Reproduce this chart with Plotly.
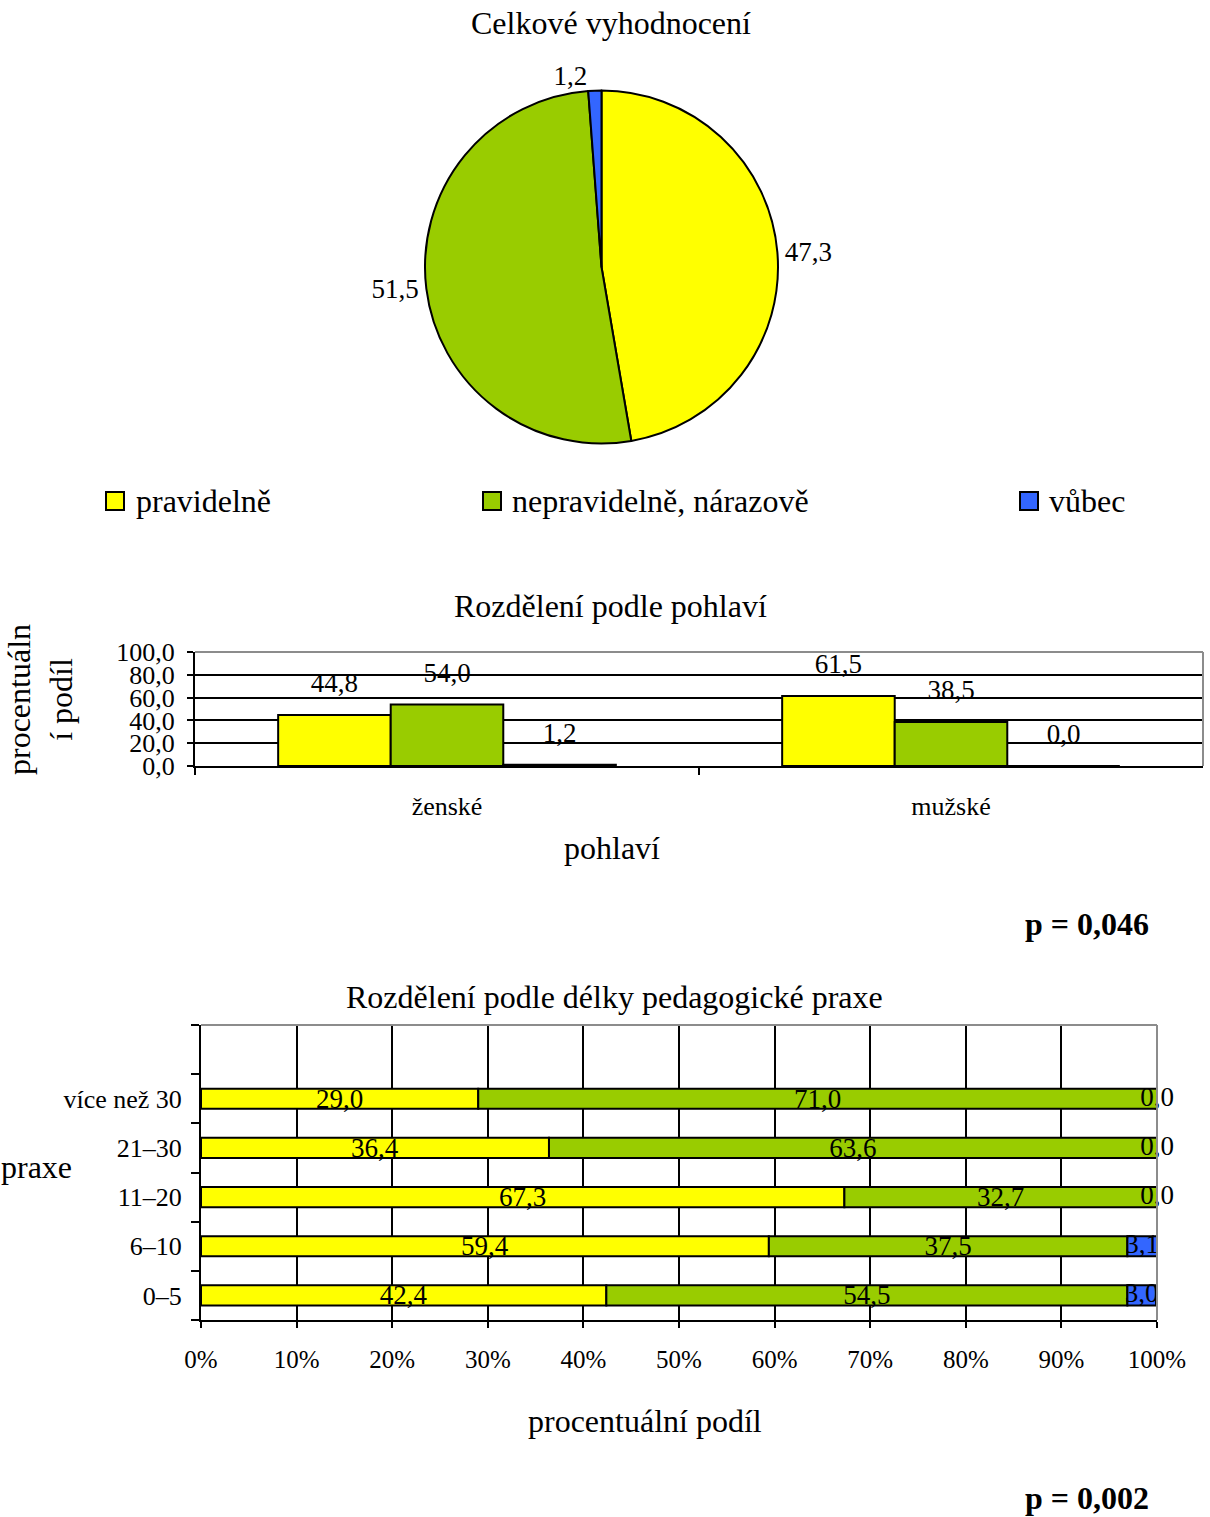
import plotly.graph_objects as go

W, H = 1210, 1517
FONT = "Liberation Serif"

# ---------------- data ----------------
series_names = ["pravidelně", "nepravidelně, nárazově", "vůbec"]
series_colors = ["#FFFF00", "#99CC00", "#3366FF"]

pie_values = [47.3, 51.5, 1.2]

gender_categories = ["ženské", "mužské"]
gender_pravidelne = [44.8, 61.5]
gender_nepravidelne = [54.0, 38.5]
gender_vubec = [1.2, 0.0]

praxe_categories = ["0–5", "6–10", "11–20", "21–30", "více než 30"]
praxe_pravidelne = [42.4, 59.4, 67.3, 36.4, 29.0]
praxe_nepravidelne = [54.5, 37.5, 32.7, 63.6, 71.0]
praxe_vubec = [3.0, 3.1, 0.0, 0.0, 0.0]
# the original axis keeps one empty slot above the last category
praxe_axis_categories = praxe_categories + [" "]


def fx(px):
    return px / W


def fy(py):
    return 1 - py / H


fig = go.Figure()

# ---------------- pie ----------------
fig.add_trace(go.Pie(
    values=pie_values, labels=series_names, sort=False,
    direction="clockwise", rotation=0,
    marker=dict(colors=series_colors, line=dict(color="black", width=2)),
    textposition="outside", texttemplate="%{value:.1f}",
    textfont=dict(size=27, color="black", family=FONT),
    domain=dict(x=[fx(425), fx(778)], y=[fy(444), fy(90)]),
    showlegend=False, automargin=False,
))

# ---------------- grouped bars (gender) ----------------
gender_series = [gender_pravidelne, gender_nepravidelne, gender_vubec]
for name, vals, col in zip(series_names, gender_series, series_colors):
    fig.add_trace(go.Bar(
        x=gender_categories, y=vals, name=name, xaxis="x", yaxis="y",
        marker=dict(color=col, line=dict(color="black", width=2)),
        showlegend=False,
    ))
for name, vals in zip(series_names, gender_series):
    fig.add_trace(go.Scatter(
        x=gender_categories, y=vals, name=name, xaxis="x", yaxis="y",
        mode="markers+text", texttemplate="%{y:.1f}", textposition="top center",
        marker=dict(size=24, color="rgba(0,0,0,0)"),
        textfont=dict(size=27, color="black", family=FONT),
        showlegend=False, cliponaxis=False,
    ))

# ---------------- stacked horizontal bars (praxe) ----------------
praxe_series = [praxe_pravidelne, praxe_nepravidelne, praxe_vubec]
running = [0.0] * len(praxe_categories)
for i, (name, vals, col) in enumerate(zip(series_names, praxe_series, series_colors)):
    last = i == len(praxe_series) - 1
    fig.add_trace(go.Bar(
        y=praxe_categories, x=vals, base=list(running), orientation="h",
        name=name, xaxis="x2", yaxis="y2", offsetgroup="praxe", width=0.41,
        marker=dict(color=col, line=dict(color="black", width=2)),
        customdata=vals, texttemplate=None if last else "%{customdata:.1f}",
        textposition="none" if last else "inside", insidetextanchor="middle",
        textfont=dict(size=27, color="black", family=FONT),
        constraintext="none",
        showlegend=False,
    ))
    if last:
        # labels of the thin last segment, centred on the segment (also for 0,0)
        fig.add_trace(go.Scatter(
            y=praxe_categories, x=[r + v / 2 for r, v in zip(running, vals)],
            orientation="h", xaxis="x2", yaxis="y2", mode="text",
            customdata=vals, texttemplate="%{customdata:.1f}",
            textposition="middle center",
            textfont=dict(size=27, color="black", family=FONT),
            showlegend=False, cliponaxis=False,
        ))
    running = [r + v for r, v in zip(running, vals)]

# ---------------- annotations ----------------
ann = []


def text(px, py, s, size=32, bold=False, angle=0, xanchor="center"):
    ann.append(dict(
        x=fx(px), y=fy(py), xref="paper", yref="paper", text=f"<b>{s}</b>" if bold else s,
        showarrow=False, xanchor=xanchor, yanchor="middle", textangle=angle,
        font=dict(size=size, color="black", family=FONT),
    ))


text(611, 23, "Celkové vyhodnocení")
text(610, 606, "Rozdělení podle pohlaví")
text(612, 848, "pohlaví")
text(40, 700, "procentuáln<br>í podíl", angle=-90)
text(1087, 924, "p = 0,046", bold=True)
text(614, 997, "Rozdělení podle délky pedagogické praxe")
text(36, 1167, "praxe")
text(645, 1421, "procentuální podíl")
text(1087, 1498, "p = 0,002", bold=True)

# legend (manual)
shapes = []
legend_pos = [(106, 134), (483, 510), (1020, 1047)]
for (sx, tx), name, col in zip(legend_pos, series_names, series_colors):
    shapes.append(dict(type="rect", xref="paper", yref="paper",
                       x0=fx(sx), x1=fx(sx + 18), y0=fy(510), y1=fy(492),
                       fillcolor=col, line=dict(color="black", width=2)))
    text(tx, 501, name, xanchor="left")

# plot-area gray borders (top and right edges)
for xr, yr in (("x", "y"), ("x2", "y2")):
    shapes.append(dict(type="line", xref=f"{xr} domain", yref=f"{yr} domain",
                       x0=0, x1=1, y0=1, y1=1, layer="above",
                       line=dict(color="#8c8c8c", width=2)))
    shapes.append(dict(type="line", xref=f"{xr} domain", yref=f"{yr} domain",
                       x0=1, x1=1, y0=0, y1=1, layer="above",
                       line=dict(color="#8c8c8c", width=2)))

axis_common = dict(showline=True, linecolor="black", linewidth=2,
                   ticks="outside", tickcolor="black", tickwidth=2,
                   zeroline=False, color="black", automargin=False)

fig.update_layout(
    width=W, height=H, margin=dict(l=0, r=0, t=0, b=0, autoexpand=False), autosize=False,
    paper_bgcolor="white", plot_bgcolor="white",
    font=dict(family=FONT, color="black"),
    separators=", ",
    barmode="group", bargap=0.33, bargroupgap=0,
    scattermode="group",
    annotations=ann, shapes=shapes,
    xaxis=dict(domain=[fx(195), fx(1203)], anchor="y", type="category",
               tickson="boundaries", ticklen=7, showgrid=False,
               tickfont=dict(size=26), ticklabelstandoff=16, **axis_common),
    yaxis=dict(domain=[fy(766), fy(652)], anchor="x", range=[0, 100], dtick=20,
               tickformat=".1f", showgrid=True, gridcolor="black", gridwidth=2,
               ticklen=6, tickfont=dict(size=26), ticklabelstandoff=7, **axis_common),
    xaxis2=dict(domain=[fx(201), fx(1157)], anchor="y2", range=[0, 100], dtick=10,
                ticksuffix="%", showgrid=True, gridcolor="black", gridwidth=2,
                ticklen=6, tickfont=dict(size=25), ticklabelstandoff=10, **axis_common),
    yaxis2=dict(domain=[fy(1320), fy(1025)], anchor="x2", type="category",
                categoryorder="array", categoryarray=praxe_axis_categories,
                range=[-0.5, 5.5], tickson="boundaries", ticklen=8, showgrid=False,
                tickfont=dict(size=26), ticklabelstandoff=12, **axis_common),
)

fig.write_html(
    "out.html",
    config={"responsive": False, "displayModeBar": False},
    post_script="document.body.style.margin='0';document.body.style.overflow='hidden';",
)
